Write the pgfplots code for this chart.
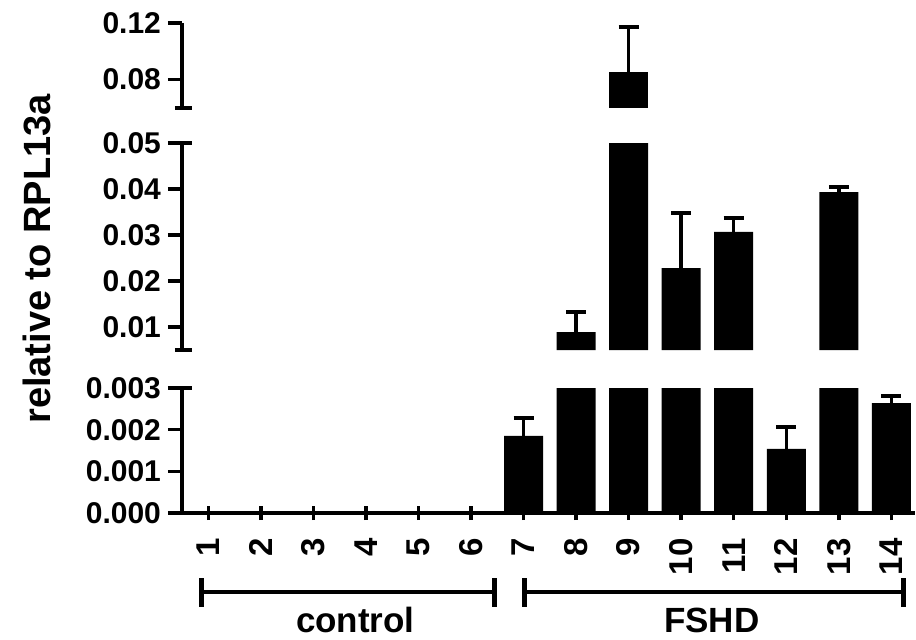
\documentclass[border=0pt]{standalone}
\usepackage{fontspec}
\setmainfont{Liberation Sans}
\usepackage{pgfplots}
\pgfplotsset{compat=1.18}
\usepackage{pgfplotstable}

% relative expression, mean and SEM per sample
\pgfplotstableread{
x  y        err
1  0        0
2  0        0
3  0        0
4  0        0
5  0        0
6  0        0
7  0.00185  0.00043
8  0.0089   0.0044
9  0.0856   0.0314
10 0.0228   0.0120
11 0.0307   0.0030
12 0.00154  0.00052
13 0.0393   0.0011
14 0.00264  0.00017
}\expr

\pgfplotsset{
  brk/.style={
    width=366.5pt, scale only axis,
    xmin=0.5, xmax=14.45,
    axis y line=left,
    axis line style={-, line width=1.75pt},
    tick style={line width=1.75pt, black},
    major tick length=7pt, tick align=outside,
    ybar, bar width=19.5pt,
    scaled y ticks=false,
    /pgf/number format/assume math mode=true,
    ticklabel style={font=\fontsize{15}{18}\selectfont\bfseries},
    yticklabel style={/pgf/number format/fixed,
      /pgf/number format/fixed zerofill,
      /pgf/number format/precision=2},
  },
  bars/.style={fill=black, draw=none,
    error bars/.cd, y dir=plus, y explicit,
    error bar style={line width=1.75pt, draw=black},
    error mark options={rotate=90, mark size=5pt, line width=2pt, draw=black}},
}

\begin{document}
\begin{tikzpicture}
% lower segment
\begin{axis}[brk, at={(0,0)}, anchor=south west, height=62.5pt,
    axis x line=bottom,
    x axis line style={-},
    ymin=0, ymax=0.003, ytick={0,0.001,0.002,0.003},
    yticklabel style={/pgf/number format/precision=3},
    xtick={1,...,14},
    xticklabel style={rotate=90, anchor=east, inner xsep=9pt,
      font=\fontsize{16.5}{19}\selectfont\bfseries},
  ]
\addplot[bars] table[x=x, y=y, y error=err] {\expr};
\coordinate (lt) at (rel axis cs:0,1);
\coordinate (c0) at (axis cs:0.87,0);
\coordinate (c1) at (axis cs:6.45,0);
\coordinate (f0) at (axis cs:7.02,0);
\coordinate (f1) at (axis cs:14.24,0);
\coordinate (cl) at (axis cs:3.8,0);
\coordinate (fl) at (axis cs:10.58,0);
\end{axis}
% middle segment
\begin{axis}[brk, at={(0,81.5pt)}, anchor=south west, height=103.5pt,
    axis x line=none,
    ymin=0.005, ymax=0.05, ytick={0.01,0.02,0.03,0.04,0.05},
  ]
\addplot[restrict y to domain=0.005:10, bars] table[x=x, y=y, y error=err] {\expr};
\coordinate (mt) at (rel axis cs:0,1);
\coordinate (mb) at (rel axis cs:0,0);
\end{axis}
% upper segment
\begin{axis}[brk, at={(0,202.5pt)}, anchor=south west, height=42.5pt,
    axis x line=none,
    ymin=0.06, ymax=0.12, ytick={0.08,0.12},
  ]
\addplot[restrict y to domain=0.06:10, bars] table[x=x, y=y, y error=err] {\expr};
\coordinate (tb) at (rel axis cs:0,0);
\end{axis}

% break caps on the y axis
\draw[line width=1.75pt] ([xshift=-3.5pt]tb) -- ([xshift=5pt]tb);
\draw[line width=1.75pt] ([xshift=-3.5pt]mb) -- ([xshift=5pt]mb);
\draw[line width=1.75pt] (mt) -- ([xshift=5pt]mt);
\draw[line width=1.75pt] (lt) -- ([xshift=5pt]lt);

% group brackets
\foreach \a/\b in {c0/c1, f0/f1} {
  \draw[line width=2pt] ([yshift=-39.5pt]\a) -- ([yshift=-39.5pt]\b);
  \draw[line width=2.5pt] ([yshift=-32.5pt]\a) -- ([yshift=-47pt]\a);
  \draw[line width=2.5pt] ([yshift=-32.5pt]\b) -- ([yshift=-47pt]\b);
}
\node[anchor=base, font=\fontsize{17.5}{21}\selectfont\bfseries]
  at ([yshift=-59.5pt]cl) {control};
\node[anchor=base, font=\fontsize{17.5}{21}\selectfont\bfseries]
  at ([yshift=-59.5pt]fl) {FSHD};

\node[rotate=90, font=\fontsize{19}{22}\selectfont\bfseries]
  at (-72.5pt,127pt) {relative to RPL13a};

\pgfresetboundingbox
\path (-91pt,-63pt) rectangle (367pt,256.5pt);
\end{tikzpicture}
\end{document}
